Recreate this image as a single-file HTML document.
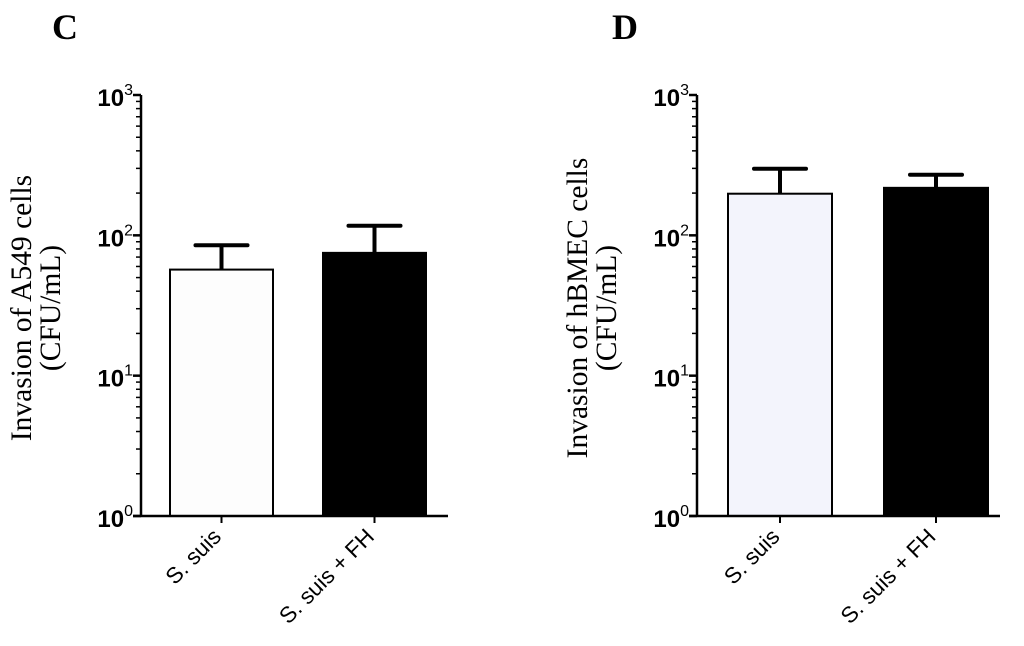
<!DOCTYPE html>
<html><head><meta charset="utf-8"><style>
html,body{margin:0;padding:0;background:#fff;}
svg{display:block;}
</style></head><body>
<svg id="fig" width="1024" height="646" xmlns="http://www.w3.org/2000/svg"></svg>
<script>
const categories = ["S. suis", "S. suis + FH"];
const panelCValues = [57, 75];
const panelCErrors = [85, 117];
const panelDValues = [198, 218];
const panelDErrors = [298, 270];
const tickExponents = [0, 1, 2, 3];

const NS = "http://www.w3.org/2000/svg";
const svg = document.getElementById("fig");
function mk(tag, attrs, parent) {
  const e = document.createElementNS(NS, tag);
  for (const k in attrs) e.setAttribute(k, attrs[k]);
  (parent || svg).appendChild(e);
  return e;
}

function panel(cfg) {
  const g = mk("g", {});
  
  
  const yTop = 95, yBot = 516;
  const y = v => yBot - (Math.log10(v) / 3) * (yBot - yTop);

  const letter = mk("text", {x: cfg.letterX, y: 39, "font-family": "Liberation Serif, serif", "font-weight": "bold", "font-size": 36}, g);
  letter.textContent = cfg.letter;
  
  

  const t = mk("text", {transform: `translate(${cfg.axisX - 110},308) rotate(-90)`, "font-family": "Liberation Serif, serif", "font-size": 29.5, "text-anchor": "middle"}, g);
  
  
  const t1 = mk("tspan", {x: 0, dy: 0}, t); t1.textContent = cfg.title;
  const t2 = mk("tspan", {x: 0, dy: 29}, t); t2.textContent = "(CFU/mL)";

  for (let i = 0; i < cfg.values.length; i++) {
    const x0 = cfg.barX[i], w = cfg.barW, cx = x0 + w / 2;
    const ye = y(cfg.errors[i]);
    const el = mk("line", {x1: cx, x2: cx, y1: y(cfg.values[i]), y2: ye, stroke: "#000", "stroke-width": 4}, g);
    
    
    const cap = mk("line", {x1: cx - 26, x2: cx + 26, y1: ye, y2: ye, stroke: "#000", "stroke-width": 4, "stroke-linecap": "round"}, g);
    
    
    const r = mk("rect", {x: x0, y: y(cfg.values[i]), width: w, height: yBot - y(cfg.values[i]), fill: cfg.fills[i], stroke: "#000", "stroke-width": 2}, g);
    
    
    const tk = mk("line", {x1: cx, x2: cx, y1: yBot, y2: yBot + 7, stroke: "#000", "stroke-width": 2}, g);
    
    
    const lb = mk("text", {transform: `translate(${cx + 1},${yBot + 22}) rotate(-45)`, "font-family": "Liberation Sans, sans-serif", "font-size": 22.5, "text-anchor": "end"}, g);
    lb.textContent = categories[i];
    
    
  }

  const ya = mk("line", {x1: cfg.axisX, x2: cfg.axisX, y1: yTop, y2: yBot, stroke: "#000", "stroke-width": 2.5}, g);
  
  
  const xa = mk("line", {x1: cfg.axisX - 8, x2: cfg.axisEnd, y1: yBot, y2: yBot, stroke: "#000", "stroke-width": 2.5}, g);
  
  

  for (const e of tickExponents) {
    const yy = y(Math.pow(10, e));
    const tk = mk("line", {x1: cfg.axisX - 8, x2: cfg.axisX, y1: yy, y2: yy, stroke: "#000", "stroke-width": 2.5}, g);
    
    
    const lb = mk("text", {x: cfg.axisX - 8, y: yy + 11, "font-family": "Liberation Sans, sans-serif", "font-weight": "bold", "font-size": 24, "text-anchor": "end"}, g);
    
    
    const b = mk("tspan", {}, lb); b.textContent = "10";
    const s = mk("tspan", {dy: -11, "font-size": 16, "font-weight": "normal"}, lb); s.textContent = String(e);
    if (e < 3) {
      for (let m = 2; m <= 9; m++) {
        const ym = y(m * Math.pow(10, e));
        const mt = mk("line", {x1: cfg.axisX - 5, x2: cfg.axisX, y1: ym, y2: ym, stroke: "#000", "stroke-width": 1.5}, g);
        
        
      }
    }
  }
}

panel({name: "panel-c", letter: "C", letterX: 52, axisX: 141, axisEnd: 448, barX: [170, 323], barW: 103,
  values: panelCValues, errors: panelCErrors, fills: ["#fdfdfd", "#000"], title: "Invasion of A549 cells"});
panel({name: "panel-d", letter: "D", letterX: 612, axisX: 697, axisEnd: 1000, barX: [728, 884], barW: 104,
  values: panelDValues, errors: panelDErrors, fills: ["#f3f4fc", "#000"], title: "Invasion of hBMEC cells"});
</script>
</body></html>
